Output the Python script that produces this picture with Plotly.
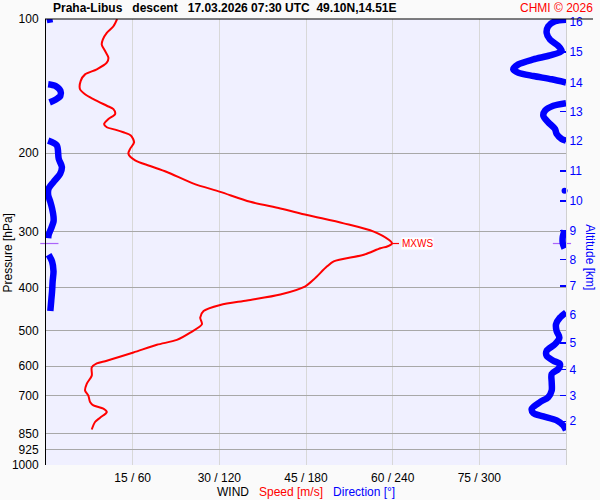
import math
import plotly.graph_objects as go

# ---- wind speed profile (m/s vs hPa) ----
speed_p = [100.0, 103.8, 107.4, 111.2, 114.1, 118.0, 122.1, 125.3, 129.7, 133.1,
           137.6, 143.7, 147.5, 151.2, 156.5, 159.2, 163.4, 167.6, 172.0, 174.9,
           177.0, 179.5, 182.5, 188.9, 195.5, 200.5, 207.5, 213.6, 220.3, 233.9,
           244.1, 257.0, 265.9, 275.1, 287.2, 299.7, 312.7, 318.7, 323.6, 326.5,
           337.7, 349.5, 358.6, 383.9, 397.4, 414.6, 427.6, 437.9, 451.7, 467.4,
           483.6, 504.9, 524.2, 537.7, 559.5, 583.6, 591.9, 604.2, 630.4, 657.6,
           680.8, 698.6, 722.8, 735.3, 747.8, 761.0, 783.2, 801.0, 832.6]
speed_ms = [12.31, 11.67, 10.52, 9.83, 9.65, 10.23, 10.80, 10.52, 8.79, 6.76,
            6.01, 5.89, 6.76, 8.20, 10.52, 11.67, 11.96, 10.80, 10.05, 10.52,
            11.96, 13.40, 14.68, 15.25, 14.56, 14.26, 15.43, 18.03, 20.92, 25.53,
            30.16, 35.36, 40.56, 45.19, 51.53, 56.73, 59.33, 59.89, 59.05, 57.89,
            55.00, 49.80, 48.65, 46.33, 44.89, 40.56, 34.79, 30.16, 27.27, 26.69,
            26.99, 24.96, 22.65, 19.19, 15.13, 10.52, 8.79, 7.92, 7.92, 7.05,
            6.76, 7.33, 7.63, 8.20, 9.93, 10.52, 9.36, 8.49, 7.92]

# ---- wind direction profile (deg vs hPa), None = break (wrap / missing) ----
dir_p = [100.0, 100.6, None,
         100.4, 101.2, 103.8, 107.4, 111.2, 115.0, 118.0, 120.7, 123.2, 126.4,
         129.7, 131.9, 134.2, 136.5, 138.8, None,
         140.0, 141.2, 144.9, 148.6, 151.7, 153.8, None,
         154.4, 156.5, 160.5, 164.7, 170.4, 176.4, 181.0, 185.8, 187.4, None,
         187.4, 192.0, 205.8, 214.7, 222.3, 231.9, 240.0, 248.3, 257.0, 265.9,
         277.5, 284.7, 294.6, 304.8, 310.2, None,
         298.1, 307.4, 318.7, 326.9, None,
         337.7, 349.5, 367.9, 387.3, 407.7, 429.1, 451.7, None,
         455.0, 467.4, 483.6, 500.6, 518.0, 535.8, 554.6, 568.9, 583.6, 593.6,
         609.2, 624.9, 652.3, 680.8, 704.7, 722.8, 747.8, 764.8, 778.0, 794.0,
         814.6, 835.7]
dir_deg = [4.5, 0.5, None,
           360, 352.4, 347.7, 346.6, 348.9, 354.7, 357.0, 348.9, 337.4, 327.0,
           323.5, 327.0, 337.4, 350.1, 360, None,
           1.5, 6.5, 10.0, 10.0, 6.5, 2.5, None,
           360, 351.2, 345.5, 344.3, 347.7, 352.4, 353.5, 357.0, 360, None,
           1.5, 7.5, 8.8, 11.0, 9.8, 5.2, 1.8, 1.5, 3.0, 4.2,
           5.2, 5.2, 3.6, 1.8, 1.5, None,
           359, 357.8, 357.8, 359, None,
           1.8, 4.2, 5.2, 4.6, 4.2, 3.6, 3.0, None,
           360, 355.8, 353.1, 353.5, 355.4, 352.4, 346.6, 346.6, 351.2, 355.8,
           354.7, 350.1, 350.1, 350.1, 347.7, 342.0, 336.3, 337.4, 344.3, 353.5,
           358.1, 360]
dot_p = [242.8]
dot_deg = [359]

# ---- max wind ----
mxws_p = 318.7
mxws_speed = 59.9

# ---- axes ticks ----
p_ticks = [100, 200, 300, 400, 500, 600, 700, 850, 925, 1000]
x_ticks = [15, 30, 45, 60, 75, 90]
x_ticktext = ["15 / 60", "30 / 120", "45 / 180", "60 / 240", "75 / 300", ""]
alt_km = [2, 3, 4, 5, 6, 7, 8, 9, 10, 11, 12, 13, 14, 15, 16]
alt_p = [798.0, 698.5, 611.2, 532.2, 460.9, 397.2, 345.9, 298.1, 255.6, 219.2,
         187.9, 161.3, 138.8, 118.6, 101.5]

FONT = "Liberation Sans, Arial, sans-serif"
RED = "#ff0000"
BLUE = "#0000ff"

fig = go.Figure()
fig.add_trace(go.Scatter(x=dir_deg, y=dir_p, xaxis="x2", yaxis="y", mode="lines",
                         line=dict(color=BLUE, width=6.5, shape="spline",
                                   smoothing=0.8),
                         connectgaps=False, hoverinfo="skip", showlegend=False))
fig.add_trace(go.Scatter(x=speed_ms, y=speed_p, mode="lines",
                         line=dict(color=RED, width=2, shape="spline",
                                   smoothing=0.8),
                         showlegend=False, hoverinfo="skip"))
# MXWS tick marks
fig.add_trace(go.Scatter(x=[mxws_speed, mxws_speed + 1.2], y=[mxws_p, mxws_p],
                         mode="lines", line=dict(color=RED, width=1.2),
                         showlegend=False, hoverinfo="skip"))
fig.add_trace(go.Scatter(x=[0.58, 89.3], y=[mxws_p, mxws_p], mode="markers",
                         marker=dict(symbol="line-ew-open", size=13,
                                     line=dict(color=RED, width=1.2)),
                         cliponaxis=False, showlegend=False, hoverinfo="skip"))
# dummy trace so the altitude axis exists
fig.add_trace(go.Scatter(x=[None], y=[None], yaxis="y2", showlegend=False,
                         hoverinfo="skip"))
# isolated direction point (drawn last so it stays on top)
fig.add_trace(go.Scatter(x=dot_deg, y=dot_p, xaxis="x2", yaxis="y", mode="markers",
                         marker=dict(color=BLUE, size=6), cliponaxis=False,
                         hoverinfo="skip", showlegend=False))

fig.update_layout(
    width=600, height=500,
    margin=dict(l=46, r=34, t=16, b=35),
    paper_bgcolor="#fafafa",
    plot_bgcolor="#f0f0ff",
    font=dict(family=FONT, size=12, color="black"),
    xaxis=dict(range=[0, 90], tickvals=x_ticks, ticktext=x_ticktext,
               showgrid=True, gridcolor="#d8d8d8", gridwidth=1, zeroline=False,
               showline=False, ticks="", ticklabelstandoff=4,
               tickfont=dict(size=12, color="black")),
    xaxis2=dict(range=[0, 360], overlaying="x", visible=False),
    yaxis=dict(type="log", range=[3, 2], tickvals=p_ticks,
               ticktext=[str(v) for v in p_ticks], showgrid=True,
               gridcolor="#a8a8a8", gridwidth=1, zeroline=False,
               showline=True, linecolor="black", linewidth=1, ticks="",
               ticklabelstandoff=4, tickfont=dict(size=12, color="black")),
    yaxis2=dict(type="log", range=[3, 2], overlaying="y", side="right",
                tickvals=alt_p, ticktext=[str(a) for a in alt_km],
                ticks="inside", ticklen=6, tickwidth=1.5, tickcolor=BLUE,
                tickfont=dict(size=12, color=BLUE), showgrid=False,
                showline=True, linecolor="#d0d0d0", linewidth=1, zeroline=False),
    shapes=[dict(type="line", xref="paper", yref="paper", x0=-0.002, x1=1.052,
                 y0=1, y1=1, line=dict(color="black", width=1.2))],
    annotations=[
        dict(text="<b>Praha-Libus   descent   17.03.2026 07:30 UTC  49.10N,14.51E</b>",
             xref="paper", yref="paper", x=0.0096, y=1.024, xanchor="left",
             yanchor="middle", showarrow=False, font=dict(size=12, color="black")),
        dict(text="CHMI © 2026", xref="paper", yref="paper", x=1.0558, y=1.024,
             xanchor="right", yanchor="middle", showarrow=False,
             font=dict(size=12, color=RED)),
        dict(text="Pressure [hPa]", xref="paper", yref="paper", x=-0.0731,
             y=0.4766, textangle=-90, showarrow=False, xanchor="center",
             yanchor="middle", font=dict(size=12, color="black")),
        dict(text="Altitude [km]", xref="paper", yref="paper", x=1.0462,
             y=0.4655, textangle=90, showarrow=False, xanchor="center",
             yanchor="middle", font=dict(size=12, color=BLUE)),
        dict(text="WIND   <span style='color:#ff0000'>Speed [m/s]</span>   "
                  "<span style='color:#0000ff'>Direction [°]</span>",
             xref="paper", yref="paper", x=0.5, y=-0.0595, xanchor="center",
             yanchor="middle", showarrow=False, font=dict(size=12, color="black")),
        dict(text="MXWS", x=mxws_speed + 1.6, y=math.log10(mxws_p), xref="x",
             yref="y", xanchor="left", yanchor="middle", showarrow=False,
             bgcolor="white", borderpad=0, font=dict(size=10, color=RED)),
    ],
)

fig.write_html("out.html",
               config={"displayModeBar": False, "staticPlot": True},
               post_script="document.body.style.margin='0px';"
                           "document.body.style.padding='0px';")
